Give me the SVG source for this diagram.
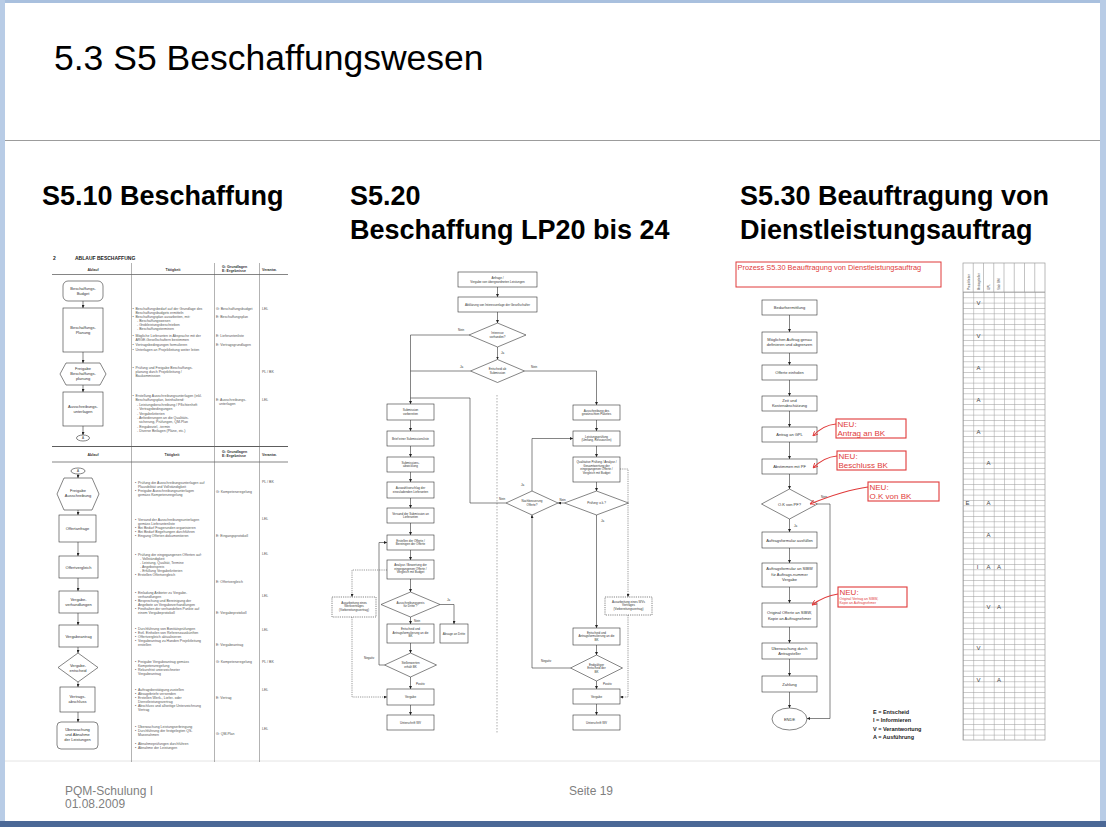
<svg xmlns="http://www.w3.org/2000/svg" width="1106" height="827" viewBox="0 0 1106 827">
<style>
text{font-family:"Liberation Sans",Arial,sans-serif}
.hd{font-size:27px;font-weight:bold;fill:#000}
.nd{fill:#fff;stroke:#333;stroke-width:0.6}
.ndd{fill:#fff;stroke:#333;stroke-width:0.6;stroke-dasharray:1.2 1}
.c{text-anchor:middle}
.n4{font-size:4px;fill:#333}
.n3{font-size:3px;fill:#333}
.tx{font-size:3.5px;fill:#555}
.cn{fill:none;stroke:#333;stroke-width:0.6}
.cd{fill:none;stroke:#555;stroke-width:0.6;stroke-dasharray:1.2 1}
.col{stroke:#666;stroke-width:0.5}
.red{fill:none;stroke:#e03a3a;stroke-width:1.1}
.rt{fill:#e03a3a}
.lg{font-size:5.5px;font-weight:bold;fill:#222}
.tl{font-size:6px;fill:#444;text-anchor:middle}
</style>
<defs>
<marker id="ah" markerWidth="3" markerHeight="3" refX="3" refY="1.5" orient="auto" markerUnits="userSpaceOnUse"><path d="M0,0 L3,1.5 L0,3 z" fill="#222"/></marker>
<marker id="ahr" markerWidth="5" markerHeight="5" refX="5" refY="2.5" orient="auto" markerUnits="userSpaceOnUse"><path d="M0,0 L5,2.5 L0,5" fill="none" stroke="#e03a3a" stroke-width="0.9"/></marker>
<pattern id="grid" x="963" y="292" width="10.25" height="5.3333" patternUnits="userSpaceOnUse"><path d="M0,0.3 H10.25 M0.3,0 V5.3333" stroke="#9a9a9a" stroke-width="0.6" fill="none"/></pattern>
</defs>

<!-- slide frame -->
<rect x="0" y="0" width="1106" height="827" fill="#ffffff"/>
<rect x="0" y="0" width="1106" height="3" fill="#a9c0de"/>
<rect x="0" y="0" width="5" height="827" fill="#b8cce6"/>
<rect x="1100" y="0" width="6" height="827" fill="#b8cce6"/>
<rect x="0" y="821" width="1106" height="6" fill="#4b6896"/>
<line x1="5" y1="140.5" x2="1100" y2="140.5" stroke="#9c9c9c" stroke-width="1.2"/>
<line x1="5" y1="761" x2="1100" y2="761" stroke="#e4e4e4" stroke-width="1"/>

<g id="title">
<text x="54" y="70" style="font-size:35.5px;fill:#000">5.3 S5 Beschaffungswesen</text>
</g>
<g id="headings">
<text class="hd" x="42" y="205">S5.10 Beschaffung</text>
<text class="hd" x="350" y="205">S5.20</text>
<text class="hd" x="350" y="239">Beschaffung LP20 bis 24</text>
<text class="hd" x="740" y="205">S5.30 Beauftragung von</text>
<text class="hd" x="740" y="239">Dienstleistungsauftrag</text>
</g>
<g id="footer" style="font-size:12px" fill="#7f7f7f">
<text x="65" y="795">PQM-Schulung I</text>
<text x="65" y="808">01.08.2009</text>
<text x="569" y="795">Seite 19</text>
</g>

<!-- ============ S5.10 ============ -->
<g id="s510-table">
<text x="53" y="260" style="font-size:5px;font-weight:bold;fill:#222">2</text>
<text x="75" y="260" style="font-size:5px;font-weight:bold;fill:#222">ABLAUF BESCHAFFUNG</text>
<g style="font-size:3.6px;font-weight:bold;fill:#333">
<text class="c" x="93" y="271">Ablauf</text>
<text class="c" x="173" y="271">Tätigkeit</text>
<text x="222" y="268">G: Grundlagen</text>
<text x="222" y="272">E: Ergebnisse</text>
<text x="262" y="271">Verantw.</text>
<text class="c" x="93" y="456">Ablauf</text>
<text class="c" x="172" y="456">Tätigkeit</text>
<text x="222" y="453">G: Grundlagen</text>
<text x="222" y="457">E: Ergebnisse</text>
<text x="262" y="456">Verantw.</text>
</g>
<line x1="52" y1="274.5" x2="288" y2="274.5" stroke="#333" stroke-width="0.6"/>
<line x1="52" y1="446.5" x2="288" y2="446.5" stroke="#333" stroke-width="0.8"/>
<line x1="52" y1="462" x2="288" y2="462" stroke="#333" stroke-width="0.6"/>
<line class="col" x1="131.5" y1="263" x2="131.5" y2="762"/>
<line class="col" x1="214.5" y1="263" x2="214.5" y2="762"/>
<line class="col" x1="259.5" y1="263" x2="259.5" y2="762"/>
</g>

<g id="s510-connectors">
<path class="cn" marker-end="url(#ah)" d="M83,301 V308"/>
<path class="cn" marker-end="url(#ah)" d="M83,352 V363"/>
<path class="cn" marker-end="url(#ah)" d="M83,385 V392"/>
<path class="cn" marker-end="url(#ah)" d="M83,426 V435"/>
<path class="cn" marker-end="url(#ah)" d="M78,474 V478"/>
<path class="cn" marker-end="url(#ah)" d="M78,510 V515"/>
<path class="cn" marker-end="url(#ah)" d="M78,542 V556"/>
<path class="cn" marker-end="url(#ah)" d="M78,578 V591"/>
<path class="cn" marker-end="url(#ah)" d="M78,613 V625"/>
<path class="cn" marker-end="url(#ah)" d="M78,647 V653"/>
<path class="cn" marker-end="url(#ah)" d="M78,682 V687"/>
<path class="cn" marker-end="url(#ah)" d="M78,712 V722"/>
</g>

<g id="s510-budget"><rect class="nd" x="63" y="281" width="40" height="20" rx="5"/><text class="n4 c" x="83" y="290">Beschaffungs-</text><text class="n4 c" x="83" y="295">Budget</text></g>
<g id="s510-planung"><rect class="nd" x="63" y="308" width="40" height="44"/><text class="n4 c" x="83" y="329">Beschaffungs-</text><text class="n4 c" x="83" y="334">Planung</text></g>
<g id="s510-freigabe1"><polygon class="nd" points="60,374 66,363 100,363 106,374 100,385 66,385"/><text class="n4 c" x="83" y="370">Freigabe</text><text class="n4 c" x="83" y="375">Beschaffungs-</text><text class="n4 c" x="83" y="380">planung</text></g>
<g id="s510-ausschreibung"><rect class="nd" x="63" y="392" width="40" height="34"/><text class="n4 c" x="83" y="408">Ausschreibungs-</text><text class="n4 c" x="83" y="413">unterlagen</text></g>
<g id="s510-a1"><ellipse class="nd" cx="83" cy="438" rx="6.5" ry="3"/><text class="n3 c" x="83" y="439.2">A</text></g>
<g id="s510-a2"><ellipse class="nd" cx="78" cy="471" rx="7" ry="3"/><text class="n3 c" x="78" y="472.2">A</text></g>
<g id="s510-freigabe2"><polygon class="nd" points="57,494 64,478 92,478 99,494 92,510 64,510"/><text class="n4 c" x="78" y="492">Freigabe</text><text class="n4 c" x="78" y="497">Ausschreibung</text></g>
<g id="s510-offertanfrage"><rect class="nd" x="59" y="515" width="37" height="27"/><text class="n4 c" x="77.5" y="530">Offertanfrage</text></g>
<g id="s510-offertvergleich"><rect class="nd" x="59" y="556" width="39" height="22"/><text class="n4 c" x="78.5" y="568.5">Offertvergleich</text></g>
<g id="s510-verhandlungen"><rect class="nd" x="59" y="591" width="39" height="22"/><text class="n4 c" x="78.5" y="601">Vergabe-</text><text class="n4 c" x="78.5" y="606">verhandlungen</text></g>
<g id="s510-antrag"><rect class="nd" x="59" y="625" width="39" height="22"/><text class="n4 c" x="78.5" y="637.5">Vergabeantrag</text></g>
<g id="s510-entscheid"><polygon class="nd" points="58,667.5 78,653 98,667.5 78,682"/><text class="n4 c" x="78" y="666.5">Vergabe-</text><text class="n4 c" x="78" y="671.5">entscheid</text></g>
<g id="s510-vertrag"><rect class="nd" x="60" y="687" width="35" height="25"/><text class="n4 c" x="77.5" y="698">Vertrags-</text><text class="n4 c" x="77.5" y="703">abschluss</text></g>
<g id="s510-ueberwachung"><rect class="nd" x="57" y="722" width="41" height="27" rx="4"/><text class="n4 c" x="77.5" y="731">Überwachung</text><text class="n4 c" x="77.5" y="736">und Abnahme</text><text class="n4 c" x="77.5" y="741">der Leistungen</text></g>

<g id="s510-texts" class="tx">
<text x="132.5" y="310">•</text><text x="135.5" y="310">Beschaffungsbedarf auf der Grundlage des</text>
<text x="135.5" y="314">Beschaffungsbudgets ermitteln</text>
<text x="132.5" y="318">•</text><text x="135.5" y="318">Beschaffungsplan ausarbeiten, mit:</text>
<text x="137" y="322">- Beschaffungswesen</text>
<text x="137" y="326">- Grobleistungsbeschrieben</text>
<text x="137" y="330">- Beschaffungsterminen</text>
<text x="132.5" y="337">•</text><text x="135.5" y="337">Mögliche Lieferanten in Absprache mit der</text>
<text x="135.5" y="341">ARGE-Gesellschaftern bestimmen</text>
<text x="132.5" y="346">•</text><text x="135.5" y="346">Vertragsbedingungen formulieren</text>
<text x="132.5" y="351">•</text><text x="135.5" y="351">Unterlagen an Projektleitung weiter leiten</text>
<text x="216" y="310">G: Beschaffungsbudget</text>
<text x="216" y="318">E: Beschaffungsplan</text>
<text x="216" y="337">E: Lieferantenliste</text>
<text x="216" y="346">E: Vertragsgrundlagen</text>
<text x="262" y="310">LEL</text>

<text x="132.5" y="369">•</text><text x="135.5" y="369">Prüfung und Freigabe Beschaffungs-</text>
<text x="135.5" y="373">planung durch Projektleitung /</text>
<text x="135.5" y="377">Baukommission</text>
<text x="262" y="373">PL / BK</text>

<text x="132.5" y="397">•</text><text x="135.5" y="397">Erstellung Ausschreibungsunterlagen (inkl.</text>
<text x="135.5" y="401.4">Beschaffungsplan, beinhaltend:</text>
<text x="137" y="405.8">- Leistungsbeschreibung / Pflichtenheft</text>
<text x="137" y="410.2">- Vertragsbedingungen</text>
<text x="137" y="414.6">- Vergabekriterien</text>
<text x="137" y="419">- Anforderungen an die Qualitäts-</text>
<text x="139" y="423.4">sicherung, Prüfungen, QM-Plan</text>
<text x="137" y="427.8">- Eingabeziel, -termin</text>
<text x="137" y="432.2">- Diverse Beilagen (Pläne, etc.)</text>
<text x="216" y="401">E: Ausschreibungs-</text>
<text x="219" y="405">unterlagen</text>
<text x="262" y="401">LEL</text>

<text x="135" y="484">•</text><text x="138" y="484">Prüfung der Ausschreibungsunterlagen auf</text>
<text x="138" y="488">Plausibilität und Vollständigkeit</text>
<text x="135" y="492">•</text><text x="138" y="492">Freigabe Ausschreibungsunterlagen</text>
<text x="138" y="496">gemäss Kompetenzregelung</text>
<text x="216" y="493">G: Kompetenzregelung</text>
<text x="262" y="483">PL / BK</text>

<text x="135" y="521">•</text><text x="138" y="521">Versand der Ausschreibungsunterlagen</text>
<text x="138" y="525">gemäss Lieferantenliste</text>
<text x="135" y="529">•</text><text x="138" y="529">Bei Bedarf Fragerunden organisieren</text>
<text x="135" y="533">•</text><text x="138" y="533">Bei Bedarf Begehungen durchführen</text>
<text x="135" y="537">•</text><text x="138" y="537">Eingang Offerten dokumentieren</text>
<text x="216" y="537">E: Eingangsprotokoll</text>
<text x="262" y="520">LEL</text>

<text x="135" y="556">•</text><text x="138" y="556">Prüfung der eingegangenen Offerten auf:</text>
<text x="140" y="560">- Vollständigkeit</text>
<text x="140" y="564">- Leistung, Qualität, Termine</text>
<text x="140" y="568">- Angebotspreis</text>
<text x="140" y="572">- Erfüllung Vergabekriterien</text>
<text x="135" y="576">•</text><text x="138" y="576">Erstellen Offertvergleich</text>
<text x="216" y="583">E: Offertvergleich</text>
<text x="262" y="555">LEL</text>

<text x="135" y="594">•</text><text x="138" y="594">Einladung Anbieter zu Vergabe-</text>
<text x="138" y="598">verhandlungen</text>
<text x="135" y="602">•</text><text x="138" y="602">Besprechung und Bereinigung der</text>
<text x="138" y="606">Angebote an Vergabeverhandlungen</text>
<text x="135" y="610">•</text><text x="138" y="610">Festhalten der verhandelten Punkte auf</text>
<text x="138" y="614">einem Vergabeprotokoll</text>
<text x="216" y="614">E: Vergabeprotokoll</text>
<text x="262" y="597">LEL</text>

<text x="135" y="630">•</text><text x="138" y="630">Durchführung von Bonitätsprüfungen</text>
<text x="135" y="634">•</text><text x="138" y="634">Evtl. Einholen von Referenzauskünften</text>
<text x="135" y="638">•</text><text x="138" y="638">Offertvergleich aktualisieren</text>
<text x="135" y="642">•</text><text x="138" y="642">Vergabeantrag zu Handen Projektleitung</text>
<text x="138" y="646">erstellen</text>
<text x="216" y="646">E: Vergabeantrag</text>
<text x="262" y="631">LEL</text>

<text x="135" y="663">•</text><text x="138" y="663">Freigabe Vergabeantrag gemäss</text>
<text x="138" y="667">Kompetenzregelung</text>
<text x="135" y="671">•</text><text x="138" y="671">Rekursfrist unterzeichneter</text>
<text x="138" y="675">Vergabeantrag</text>
<text x="216" y="663">G: Kompetenzregelung</text>
<text x="262" y="663">PL / BK</text>

<text x="135" y="691">•</text><text x="138" y="691">Auftragsbestätigung zustellen</text>
<text x="135" y="695">•</text><text x="138" y="695">Absagebriefe versenden</text>
<text x="135" y="699">•</text><text x="138" y="699">Erstellen Werk-, Liefer- oder</text>
<text x="138" y="703">Dienstleistungsvertrag</text>
<text x="135" y="707">•</text><text x="138" y="707">Abschluss und allseitige Unterzeichnung</text>
<text x="138" y="711">Vertrag</text>
<text x="216" y="699">E: Vertrag</text>
<text x="262" y="691">LEL</text>

<text x="135" y="728">•</text><text x="138" y="728">Überwachung Leistungserbringung</text>
<text x="135" y="732">•</text><text x="138" y="732">Durchführung der festgelegten QS-</text>
<text x="138" y="736">Massnahmen</text>
<text x="135" y="745">•</text><text x="138" y="745">Abnahmeprüfungen durchführen</text>
<text x="135" y="749">•</text><text x="138" y="749">Abnahme der Leistungen</text>
<text x="216" y="735">G: QM-Plan</text>
<text x="262" y="730">LEL</text>
</g>

<!-- ============ S5.20 ============ -->
<g id="s520-connectors">
<line x1="497" y1="395" x2="497" y2="734" stroke="#777" stroke-width="0.6" stroke-dasharray="1.5 1.5"/>
<path class="cn" marker-end="url(#ah)" d="M497.5,287 V297"/>
<path class="cn" marker-end="url(#ah)" d="M497.5,312 V323"/>
<path class="cn" marker-end="url(#ah)" d="M497.5,347 V359.5"/>
<path class="cn" marker-end="url(#ah)" d="M469,335 H410.5 V404"/>
<path class="cn" d="M470.5,371 H410.5"/>
<path class="cn" marker-end="url(#ah)" d="M524.5,371 H596.5 V405"/>
<path class="cn" d="M506,503 H470 V398 H410.5"/>
<path class="cn" marker-end="url(#ah)" d="M410.5,420 V431"/>
<path class="cn" marker-end="url(#ah)" d="M410.5,446 V457"/>
<path class="cn" marker-end="url(#ah)" d="M410.5,472 V482"/>
<path class="cn" marker-end="url(#ah)" d="M410.5,498 V508"/>
<path class="cn" marker-end="url(#ah)" d="M410.5,523 V535"/>
<path class="cn" marker-end="url(#ah)" d="M410.5,550 V560"/>
<path class="cn" marker-end="url(#ah)" d="M410.5,579 V592"/>
<path class="cn" marker-end="url(#ah)" d="M440,604.5 H454 V624"/>
<path class="cn" marker-end="url(#ah)" d="M410.5,617 V624"/>
<path class="cn" marker-end="url(#ah)" d="M410.5,643 V653"/>
<path class="cn" marker-end="url(#ah)" d="M384.5,665 H379 V542.5 H387"/>
<path class="cn" marker-end="url(#ah)" d="M410.5,677 V689"/>
<path class="cn" marker-end="url(#ah)" d="M410.5,705 V715"/>
<path class="cd" marker-end="url(#ah)" d="M387,570 H352 V597"/>
<path class="cd" marker-end="url(#ah)" d="M352,617 V697 H387"/>
<path class="cn" marker-end="url(#ah)" d="M596.5,420 V431"/>
<path class="cn" marker-end="url(#ah)" d="M596.5,446 V457"/>
<path class="cn" marker-end="url(#ah)" d="M596.5,482 V491"/>
<path class="cn" marker-end="url(#ah)" d="M564.5,503 H558"/>
<path class="cn" marker-end="url(#ah)" d="M532,491 V438.5 H573"/>
<path class="cn" marker-end="url(#ah)" d="M596.5,515 V628"/>
<path class="cn" marker-end="url(#ah)" d="M596.5,645 V655"/>
<path class="cn" marker-end="url(#ah)" d="M570.5,668 H532 V515"/>
<path class="cn" marker-end="url(#ah)" d="M596.5,681 V689"/>
<path class="cn" marker-end="url(#ah)" d="M596.5,704 V715"/>
<path class="cd" marker-end="url(#ah)" d="M620,469 H628 V597"/>
<path class="cd" marker-end="url(#ah)" d="M628,615 V697 H620"/>
<g class="n3">
<text x="458" y="331">Nein</text>
<text x="501" y="354">Ja</text>
<text x="460" y="368">Ja</text>
<text x="531" y="368">Nein</text>
<text x="499" y="500">Nein</text>
<text x="559.5" y="500.5">Nein</text>
<text x="521" y="486">Ja</text>
<text x="601" y="522">Ja</text>
<text x="447" y="601">Ja</text>
<text x="414" y="622">Nein</text>
<text x="364" y="659">Negativ</text>
<text x="416" y="685">Positiv</text>
<text x="541" y="662">Negativ</text>
<text x="603" y="685">Positiv</text>
</g>
</g>

<g id="s520-n1"><rect class="nd" x="458" y="272" width="79" height="15"/><text class="n3 c" x="497.5" y="278.5">Anfrage /</text><text class="n3 c" x="497.5" y="282.5">Vergabe von übergeordneten Leistungen</text></g>
<g id="s520-n2"><rect class="nd" x="458" y="297" width="79" height="15"/><text class="n3 c" x="497.5" y="305.5">Abklärung von Interessenlage der Gesellschafter</text></g>
<g id="s520-d1"><polygon class="nd" points="469,335 497.5,323 526,335 497.5,347"/><text class="n3 c" x="497.5" y="334.3">Interesse</text><text class="n3 c" x="497.5" y="337.8">vorhanden?</text></g>
<g id="s520-d2"><polygon class="nd" points="470.5,371 497.5,359.5 524.5,371 497.5,382.5"/><text class="n3 c" x="497.5" y="370.3">Entscheid ab</text><text class="n3 c" x="497.5" y="373.8">Submission</text></g>
<g id="s520-l1"><rect class="nd" x="387" y="404" width="47" height="16"/><text class="n3 c" x="410.5" y="411">Submission</text><text class="n3 c" x="410.5" y="414.5">vorbereiten</text></g>
<g id="s520-l2"><rect class="nd" x="387" y="431" width="47" height="15"/><text class="n3 c" x="410.5" y="439.5">Brief einer Submissionsliste</text></g>
<g id="s520-l3"><rect class="nd" x="387" y="457" width="47" height="15"/><text class="n3 c" x="410.5" y="463.5">Submissions-</text><text class="n3 c" x="410.5" y="467">abwicklung</text></g>
<g id="s520-l4"><rect class="nd" x="387" y="482" width="47" height="16"/><text class="n3 c" x="410.5" y="489">Auswahlvorschlag der</text><text class="n3 c" x="410.5" y="492.5">einzuladenden Lieferanten</text></g>
<g id="s520-l5"><rect class="nd" x="387" y="508" width="47" height="15"/><text class="n3 c" x="410.5" y="514.5">Versand der Submission an</text><text class="n3 c" x="410.5" y="518">Lieferanten</text></g>
<g id="s520-l6"><rect class="nd" x="387" y="535" width="47" height="15"/><text class="n3 c" x="410.5" y="541.5">Erstellen der Offerte /</text><text class="n3 c" x="410.5" y="545">Bereinigen der Offerte</text></g>
<g id="s520-l7"><rect class="nd" x="387" y="560" width="47" height="19"/><text class="n3 c" x="410.5" y="566">Analyse / Bewertung der</text><text class="n3 c" x="410.5" y="569.5">eingegangenen Offerte /</text><text class="n3 c" x="410.5" y="573">Vergleich mit Budget</text></g>
<g id="s520-ld1"><polygon class="nd" points="381,604.5 410.5,592 440,604.5 410.5,617"/><text class="n3 c" x="410.5" y="603.8">Ausschreibungspreis</text><text class="n3 c" x="410.5" y="607.3">für Dritte ?</text></g>
<g id="s520-absage"><rect class="nd" x="440" y="624" width="28" height="19"/><text class="n3 c" x="454" y="634.5">Absage an Dritte</text></g>
<g id="s520-l8"><rect class="nd" x="387" y="624" width="47" height="19"/><text class="n3 c" x="410.5" y="630">Entscheid und</text><text class="n3 c" x="410.5" y="633.5">Antragsformulierung an die</text><text class="n3 c" x="410.5" y="637">BK</text></g>
<g id="s520-ld2"><polygon class="nd" points="384.5,665 410.5,653 436.5,665 410.5,677"/><text class="n3 c" x="410.5" y="664.3">Stellenwerten</text><text class="n3 c" x="410.5" y="667.8">erhält BK</text></g>
<g id="s520-l9"><rect class="nd" x="387" y="689" width="47" height="16"/><text class="n3 c" x="410.5" y="698">Vergabe</text></g>
<g id="s520-l10"><rect class="nd" x="387" y="715" width="47" height="15"/><text class="n3 c" x="410.5" y="723.5">Unterschrift WV</text></g>
<g id="s520-ldash"><rect class="ndd" x="332" y="597" width="44" height="20"/><text class="n3 c" x="354" y="603.5">Ausarbeitung eines</text><text class="n3 c" x="354" y="607">Werkvertrages</text><text class="n3 c" x="354" y="610.5">(Vorbereitungsvertrag)</text></g>

<g id="s520-r1"><rect class="nd" x="573" y="405" width="47" height="15"/><text class="n3 c" x="596.5" y="411.5">Ausschreibung des</text><text class="n3 c" x="596.5" y="415">gewünschten Paketes</text></g>
<g id="s520-r2"><rect class="nd" x="573" y="431" width="47" height="15"/><text class="n3 c" x="596.5" y="437.5">Leistungsprüfung</text><text class="n3 c" x="596.5" y="441">(Umfang, Ressourcen)</text></g>
<g id="s520-r3"><rect class="nd" x="573" y="457" width="47" height="25"/><text class="n3 c" x="596.5" y="463">Qualitative Prüfung / Analyse /</text><text class="n3 c" x="596.5" y="466.5">Gesamtwertung der</text><text class="n3 c" x="596.5" y="470">eingegangenen Offerte /</text><text class="n3 c" x="596.5" y="473.5">Vergleich mit Budget</text></g>
<g id="s520-rd1"><polygon class="nd" points="564.5,503 596.5,491 628.5,503 596.5,515"/><text class="n3 c" x="596.5" y="504">Prüfung: o.k.?</text></g>
<g id="s520-rd2"><polygon class="nd" points="506,503 532,491 558,503 532,515"/><text class="n3 c" x="532" y="502.3">Nachbesserung</text><text class="n3 c" x="532" y="505.8">Offerte?</text></g>
<g id="s520-r4"><rect class="nd" x="573" y="628" width="47" height="17"/><text class="n3 c" x="596.5" y="633.5">Entscheid und</text><text class="n3 c" x="596.5" y="637">Antragsformulierung an die</text><text class="n3 c" x="596.5" y="640.5">BK</text></g>
<g id="s520-rd3"><polygon class="nd" points="570.5,668 596.5,655 622.5,668 596.5,681"/><text class="n3 c" x="596.5" y="665.5">Endgültiger</text><text class="n3 c" x="596.5" y="669">Entscheid der</text><text class="n3 c" x="596.5" y="672.5">BK</text></g>
<g id="s520-r5"><rect class="nd" x="573" y="689" width="47" height="15"/><text class="n3 c" x="596.5" y="697.5">Vergabe</text></g>
<g id="s520-r6"><rect class="nd" x="573" y="715" width="47" height="15"/><text class="n3 c" x="596.5" y="723.5">Unterschrift WV</text></g>
<g id="s520-rdash"><rect class="ndd" x="605" y="597" width="47" height="18"/><text class="n3 c" x="628.5" y="602.5">Ausarbeitung eines WVs</text><text class="n3 c" x="628.5" y="606">Vertrages</text><text class="n3 c" x="628.5" y="609.5">(Vorbereitungsvertrag)</text></g>

<!-- ============ S5.30 ============ -->
<g id="s530-connectors">
<path class="cn" marker-end="url(#ah)" d="M789.5,315 V332"/>
<path class="cn" marker-end="url(#ah)" d="M789.5,353 V365"/>
<path class="cn" marker-end="url(#ah)" d="M789.5,380 V396"/>
<path class="cn" marker-end="url(#ah)" d="M789.5,411 V427"/>
<path class="cn" marker-end="url(#ah)" d="M789.5,442 V459"/>
<path class="cn" marker-end="url(#ah)" d="M789.5,474 V489"/>
<path class="cn" marker-end="url(#ah)" d="M789.5,519 V532"/>
<path class="cn" marker-end="url(#ah)" d="M789.5,548 V563"/>
<path class="cn" marker-end="url(#ah)" d="M789.5,587 V603"/>
<path class="cn" marker-end="url(#ah)" d="M789.5,627 V643"/>
<path class="cn" marker-end="url(#ah)" d="M789.5,659 V676"/>
<path class="cn" marker-end="url(#ah)" d="M789.5,692 V708"/>
<path class="cn" marker-end="url(#ah)" d="M817.5,504 H830 V718.5 H807"/>
<text class="n3" x="821" y="498">Nein</text>
<text class="n3" x="794" y="527">Ja</text>
</g>
<g id="s530-header"><rect x="736" y="262" width="205" height="25" fill="none" stroke="#e03a3a" stroke-width="1"/><text class="rt" x="737.5" y="270" style="font-size:7.4px">Prozess S5.30 Beauftragung von Dienstleistungsauftrag</text></g>
<g id="s530-n1"><rect class="nd" x="762" y="300" width="55" height="15"/><text class="n4 c" x="789.5" y="308.5">Bedarfsermittlung</text></g>
<g id="s530-n2"><rect class="nd" x="762" y="332" width="55" height="21"/><text class="n4 c" x="789.5" y="340.5">Möglichen Auftrag genau</text><text class="n4 c" x="789.5" y="346">definieren und abgrenzen</text></g>
<g id="s530-n3"><rect class="nd" x="762" y="365" width="55" height="15"/><text class="n4 c" x="789.5" y="373.5">Offerte einholen</text></g>
<g id="s530-n4"><rect class="nd" x="762" y="396" width="55" height="15"/><text class="n4 c" x="789.5" y="402">Zeit und</text><text class="n4 c" x="789.5" y="407">Kostenabschätzung</text></g>
<g id="s530-n5"><rect class="nd" x="762" y="427" width="55" height="15"/><text class="n4 c" x="789.5" y="435.5">Antrag an GPL</text></g>
<g id="s530-n6"><rect class="nd" x="762" y="459" width="55" height="15"/><text class="n4 c" x="789.5" y="467.5">Abstimmen mit PF</text></g>
<g id="s530-d1"><polygon class="nd" points="761.5,504 789.5,489 817.5,504 789.5,519"/><text class="n4 c" x="789.5" y="505.5">O.K von PF?</text></g>
<g id="s530-n7"><rect class="nd" x="762" y="532" width="55" height="16"/><text class="n4 c" x="789.5" y="541.5">Auftragsformular ausfüllen</text></g>
<g id="s530-n8"><rect class="nd" x="762" y="563" width="55" height="24"/><text class="n4 c" x="789.5" y="570">Auftragsformular an SIBW</text><text class="n4 c" x="789.5" y="575.5">für Auftrags-nummer</text><text class="n4 c" x="789.5" y="581">Vergabe</text></g>
<g id="s530-n9"><rect class="nd" x="762" y="603" width="55" height="24"/><text class="n4 c" x="789.5" y="614">Original Offerte an SIBW,</text><text class="n4 c" x="789.5" y="619.5">Kopie an Auftragnehmer</text></g>
<g id="s530-n10"><rect class="nd" x="762" y="643" width="55" height="16"/><text class="n4 c" x="789.5" y="649.5">Überwachung durch</text><text class="n4 c" x="789.5" y="655">Antragsteller</text></g>
<g id="s530-n11"><rect class="nd" x="762" y="676" width="55" height="16"/><text class="n4 c" x="789.5" y="685.5">Zahlung</text></g>
<g id="s530-ende"><ellipse class="nd" cx="789.5" cy="719" rx="17.5" ry="11"/><text class="n4 c" x="789.5" y="720.5">ENDE</text></g>

<g id="s530-neu1"><rect class="red" x="836" y="419" width="70" height="19"/><text class="rt" x="837.5" y="426.5" style="font-size:8px">NEU:</text><text class="rt" x="837.5" y="435.5" style="font-size:8px">Antrag an BK</text><path class="red" marker-end="url(#ahr)" d="M836,424 Q823,425 813,436"/></g>
<g id="s530-neu2"><rect class="red" x="837" y="451" width="69" height="19"/><text class="rt" x="838.5" y="458.5" style="font-size:8px">NEU:</text><text class="rt" x="838.5" y="467.5" style="font-size:8px">Beschluss BK</text><path class="red" marker-end="url(#ahr)" d="M837,456 Q824,457 813,468"/></g>
<g id="s530-neu3"><rect class="red" x="868" y="482" width="71" height="19"/><text class="rt" x="869.5" y="489.5" style="font-size:8px">NEU:</text><text class="rt" x="869.5" y="498.5" style="font-size:8px">O.K von BK</text><path class="red" marker-end="url(#ahr)" d="M868,487 Q845,490 810,504"/></g>
<g id="s530-neu4"><rect class="red" x="838" y="587" width="69" height="20"/><text class="rt" x="839.5" y="594.5" style="font-size:8px">NEU:</text><text class="rt" x="839.5" y="599.5" style="font-size:3.4px">Original Vertrag an SIBW,</text><text class="rt" x="839.5" y="604" style="font-size:3.4px">Kopie an Auftragnehmer</text><path class="red" marker-end="url(#ahr)" d="M838,594 Q824,596 812,605"/></g>

<g id="s530-legend" class="lg">
<text x="873" y="713.5">E = Entscheid</text>
<text x="873" y="722">I = Informieren</text>
<text x="873" y="730.5">V = Verantwortung</text>
<text x="873" y="739">A = Ausführung</text>
</g>

<g id="s530-table">
<rect x="963" y="292" width="82" height="448" fill="url(#grid)"/>
<rect x="963" y="263" width="82" height="477" fill="none" stroke="#9a9a9a" stroke-width="0.7"/>
<line x1="963" y1="292" x2="1045" y2="292" stroke="#9a9a9a" stroke-width="0.7"/>
<path d="M973.25,263 V292 M983.5,263 V292 M993.75,263 V292 M1004,263 V292 M1014.25,263 V292 M1024.5,263 V292 M1034.75,263 V292" stroke="#9a9a9a" stroke-width="0.6"/>
<g style="font-size:3px;fill:#555">
<text transform="translate(969.5,290) rotate(-90)">Projektleiter</text>
<text transform="translate(979.7,290) rotate(-90)">Antragsteller</text>
<text transform="translate(990,290) rotate(-90)">GPL</text>
<text transform="translate(1000.2,290) rotate(-90)">Stab BM</text>
</g>
<text class="tl" x="978.4" y="305.2">V</text>
<text class="tl" x="978.4" y="338.2">V</text>
<text class="tl" x="978.4" y="370.2">A</text>
<text class="tl" x="978.4" y="402.2">A</text>
<text class="tl" x="978.4" y="434.2">A</text>
<text class="tl" x="988.6" y="465.2">A</text>
<text class="tl" x="967.5" y="505.2">E</text>
<text class="tl" x="988.6" y="505.2">A</text>
<text class="tl" x="988.6" y="537.2">A</text>
<text class="tl" x="977.5" y="569.2">I</text>
<text class="tl" x="988.6" y="569.2">A</text>
<text class="tl" x="998.9" y="569.2">A</text>
<text class="tl" x="988.6" y="609.2">V</text>
<text class="tl" x="998.9" y="609.2">A</text>
<text class="tl" x="978.4" y="650.2">V</text>
<text class="tl" x="978.4" y="682.2">V</text>
<text class="tl" x="998.9" y="682.2">A</text>
</g>
</svg>
